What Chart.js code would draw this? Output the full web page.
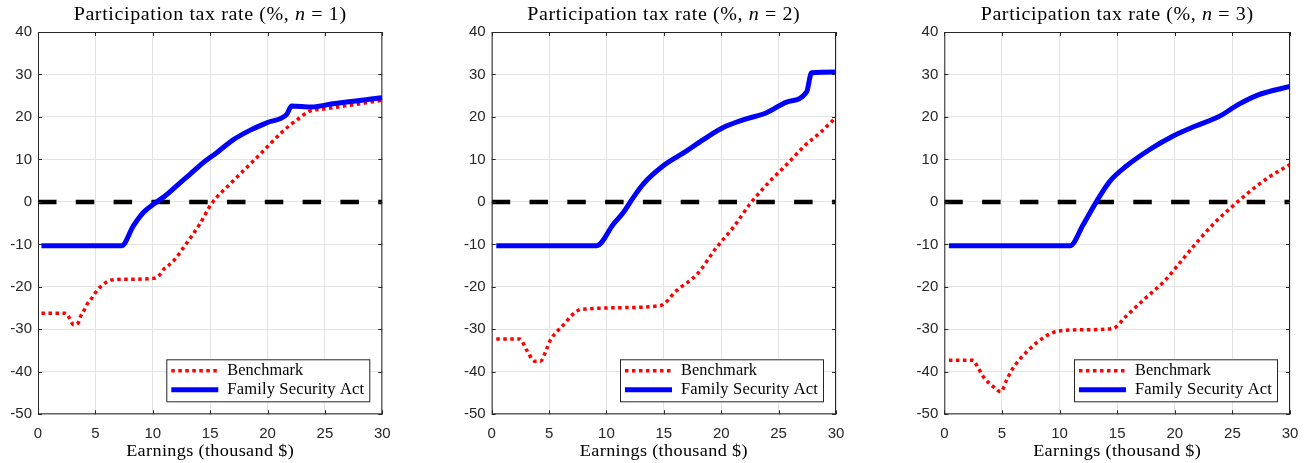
<!DOCTYPE html>
<html>
<head>
<meta charset="utf-8">
<script src="https://cdn.jsdelivr.net/npm/chart.js@4.4.1/dist/chart.umd.min.js"></script>
<style>
  body { margin: 0; background: #fff; width: 1311px; height: 463px; overflow: hidden; position: relative; }
  canvas { position: absolute; top: 0; }
</style>
</head>
<body>
<canvas id="c1" width="400" height="463" style="left:0px"></canvas>
<canvas id="c2" width="400" height="463" style="left:450px"></canvas>
<canvas id="c3" width="406" height="463" style="left:905px"></canvas>
<script>
// tick labels
const xTicks = [0, 5, 10, 15, 20, 25, 30];
const yTicks = [-50, -40, -30, -20, -10, 0, 10, 20, 30, 40];
const seriesNames = ['Benchmark', 'Family Security Act'];
const xLabel = 'Earnings (thousand $)';

// n = 1
const bench1X = [0.3, 2.4, 2.75, 3.1, 3.5, 3.7, 4.0, 4.3, 4.7, 5.0, 5.4, 5.85, 6.4, 8.0, 10.05, 10.6, 10.9, 11.4, 11.9, 12.9, 14.1, 15.1, 17.0, 19.2, 21.37, 22.8, 23.7, 25.0, 27.5, 30];
const bench1Y = [-26.2, -26.2, -27.4, -28.9, -28.5, -27.0, -25.6, -24.0, -22.6, -21.4, -20.1, -19.1, -18.4, -18.2, -18.0, -17.2, -16.0, -14.9, -13.6, -9.9, -5.2, -0.5, 4.9, 10.8, 16.7, 19.8, 21.4, 21.9, 22.9, 23.9];
const fsa1X = [0.3, 7.29, 8.31, 9.18, 10.05, 11.07, 12.08, 13.24, 14.4, 15.57, 17.0, 18.5, 20.0, 21.67, 22.1, 23.85, 25.7, 30];
const fsa1Y = [-10.3, -10.3, -5.65, -2.5, -0.55, 1.4, 3.8, 6.5, 9.25, 11.6, 14.6, 16.9, 18.7, 20.6, 22.6, 22.35, 23.1, 24.5];

// n = 2
const bench2X = [0.4, 2.45, 3.05, 3.75, 4.25, 4.8, 5.1, 6.2, 7.55, 8.3, 11.0, 14.7, 16.1, 17.9, 19.6, 21.05, 22.5, 24.25, 25.7, 27.3, 28.6, 30];
const bench2Y = [-32.3, -32.3, -34.9, -37.5, -37.5, -34.5, -32.6, -29.1, -25.5, -25.2, -24.9, -24.4, -20.9, -17.0, -10.7, -6.0, -0.5, 4.9, 8.8, 13.3, 16.25, 19.9];
const fsa2X = [0.4, 9.15, 10.6, 11.47, 12.33, 13.2, 14.95, 16.99, 18.4, 20.17, 21.9, 23.95, 25.7, 27.44, 27.87, 30];
const fsa2Y = [-10.3, -10.3, -5.25, -2.5, 1.0, 4.2, 8.5, 12.0, 14.6, 17.5, 19.3, 21.0, 23.5, 25.9, 30.4, 30.6];

// n = 3
const bench3X = [0.4, 2.5, 2.8, 3.4, 4.25, 4.9, 5.4, 5.85, 7.3, 8.7, 9.75, 12.0, 14.65, 15.7, 17.4, 19.15, 20.6, 22.05, 23.5, 24.9, 26.4, 28.1, 30];
const bench3Y = [-37.3, -37.3, -38.4, -41.2, -43.5, -44.7, -42.0, -39.6, -34.9, -31.8, -30.5, -30.1, -29.8, -27.1, -22.8, -18.5, -13.8, -9.1, -4.8, -1.3, 2.2, 5.7, 8.8];
const fsa3X = [0.4, 10.91, 12.07, 13.23, 14.38, 15.83, 17.86, 19.7, 21.75, 23.9, 25.5, 27.25, 30];
const fsa3Y = [-10.3, -10.3, -5.25, 0.2, 4.9, 8.5, 12.4, 15.3, 17.8, 20.2, 22.9, 25.2, 27.2];

const zeroX = [0, 30];
const zeroY = [0, 0];

const RED = '#ff0000', BLUE = '#0000ff', AXIS = '#262626';
const SERIF = '"Liberation Serif", "DejaVu Serif", serif';
const SANS = '"Liberation Sans", Arial, sans-serif';

function pts(xs, ys) {
  return xs.map(function (x, i) { return { x: x, y: ys[i] }; });
}

// text parts [text, font] widened to a target width (the original used a wider TeX font)
function drawWide(ctx, parts, cx, cy, target) {
  let w = 0, n = 0;
  parts.forEach(function (p) { ctx.font = p[1]; w += ctx.measureText(p[0]).width; n += p[0].length; });
  const ls = (target - w) * 0.4 / n;
  ctx.letterSpacing = ls + 'px';
  let w2 = 0;
  parts.forEach(function (p) { ctx.font = p[1]; w2 += ctx.measureText(p[0]).width; });
  const sx = target / w2;
  ctx.save();
  ctx.translate(cx - target / 2, cy);
  ctx.scale(sx, 1);
  ctx.textAlign = 'left';
  ctx.textBaseline = 'middle';
  let tx = 0;
  parts.forEach(function (p) {
    ctx.font = p[1];
    ctx.fillText(p[0], tx, 0);
    tx += ctx.measureText(p[0]).width;
  });
  ctx.restore();
  ctx.letterSpacing = '0px';
}

// box, inward ticks, title with italic n, x label, legend
const decorations = {
  id: 'decorations',
  afterDatasetsDraw(chart, args, opts) {
    const ctx = chart.ctx;
    const a = chart.chartArea;
    const xs = chart.scales.x, ys = chart.scales.y;
    const cx = (a.left + a.right) / 2;
    ctx.save();
    ctx.strokeStyle = AXIS;
    ctx.lineWidth = 1;
    ctx.strokeRect(a.left + 0.5, a.top + 0.5, a.right - a.left - 1, a.bottom - a.top - 1);
    ctx.beginPath();
    xTicks.forEach(function (t) {
      const px = Math.round(xs.getPixelForValue(t)) + 0.5;
      ctx.moveTo(px, a.bottom); ctx.lineTo(px, a.bottom - 4);
      ctx.moveTo(px, a.top); ctx.lineTo(px, a.top + 4);
    });
    yTicks.forEach(function (t) {
      const py = Math.round(ys.getPixelForValue(t)) + 0.5;
      ctx.moveTo(a.left, py); ctx.lineTo(a.left + 4, py);
      ctx.moveTo(a.right, py); ctx.lineTo(a.right - 4, py);
    });
    ctx.stroke();

    ctx.fillStyle = '#000';
    drawWide(ctx, [
      ['Participation tax rate (%, ', '18px ' + SERIF],
      ['n', 'italic 18px ' + SERIF],
      [' = ' + opts.n + ')', '18px ' + SERIF]
    ], cx, 15.5, 273);
    drawWide(ctx, [[xLabel, '17px ' + SERIF]], cx, 452, 168);

    // legend
    const bw = 203, bh = 42;
    const bx = a.right - 13 - bw, by = a.bottom - 13 - bh;
    ctx.fillStyle = '#fff';
    ctx.fillRect(bx, by, bw, bh);
    ctx.strokeStyle = AXIS;
    ctx.strokeRect(bx + 0.5, by + 0.5, bw, bh);
    const rows = [
      { y: by + 11.5, color: RED, width: 3.5, dash: [3.5, 3.5], target: 76 },
      { y: by + 30.5, color: BLUE, width: 5, dash: [], target: 137 }
    ];
    rows.forEach(function (r, i) {
      ctx.beginPath();
      ctx.strokeStyle = r.color;
      ctx.lineWidth = r.width;
      ctx.setLineDash(r.dash);
      ctx.moveTo(bx + 5, r.y);
      ctx.lineTo(bx + 52, r.y);
      ctx.stroke();
      ctx.setLineDash([]);
      ctx.fillStyle = '#000';
      drawWide(ctx, [[seriesNames[i], '16px ' + SERIF]], bx + 61 + r.target / 2, r.y, r.target);
    });
    ctx.restore();
  }
};

function makePanel(id, n, bx, by, fx, fy, yWidth, padRight) {
  new Chart(document.getElementById(id), {
    type: 'line',
    data: {
      datasets: [
        {
          label: 'zero', data: pts(zeroX, zeroY), borderColor: '#000', borderWidth: 4.5,
          borderDash: [18.5, 19.3], pointRadius: 0, order: 3
        },
        {
          label: seriesNames[0], data: pts(bx, by), borderColor: RED, borderWidth: 3.5,
          borderDash: [3.5, 3.5], pointRadius: 0, cubicInterpolationMode: 'monotone', order: 2
        },
        {
          label: seriesNames[1], data: pts(fx, fy), borderColor: BLUE, borderWidth: 5,
          pointRadius: 0, cubicInterpolationMode: 'monotone', order: 1
        }
      ]
    },
    options: {
      responsive: false,
      animation: false,
      devicePixelRatio: 1,
      layout: { padding: { top: 32, right: padRight, bottom: 0, left: 0 } },
      plugins: {
        legend: { display: false },
        tooltip: { enabled: false },
        decorations: { n: n }
      },
      scales: {
        x: {
          type: 'linear', min: 0, max: 30,
          afterBuildTicks: function (s) { s.ticks = xTicks.map(function (v) { return { value: v }; }); },
          ticks: { color: AXIS, font: { family: SANS, size: 15 }, padding: 11, maxRotation: 0 },
          grid: { color: '#e3e3e3', drawTicks: false },
          border: { display: false },
          afterFit: function (s) { s.height = 48.7; s.paddingLeft = 0; s.paddingRight = 0; }
        },
        y: {
          min: -50, max: 40,
          afterBuildTicks: function (s) { s.ticks = yTicks.map(function (v) { return { value: v }; }); },
          ticks: { color: AXIS, font: { family: SANS, size: 15 }, padding: 6 },
          grid: { color: '#e3e3e3', drawTicks: false },
          border: { display: false },
          afterFit: function (s) { s.width = yWidth; s.paddingTop = 0; s.paddingBottom = 0; }
        }
      }
    },
    plugins: [decorations]
  });
}

makePanel('c1', 1, bench1X, bench1Y, fsa1X, fsa1Y, 38, 17.7);
makePanel('c2', 2, bench2X, bench2Y, fsa2X, fsa2Y, 41.7, 14);
makePanel('c3', 3, bench3X, bench3Y, fsa3X, fsa3Y, 39.3, 21);
</script>
</body>
</html>
